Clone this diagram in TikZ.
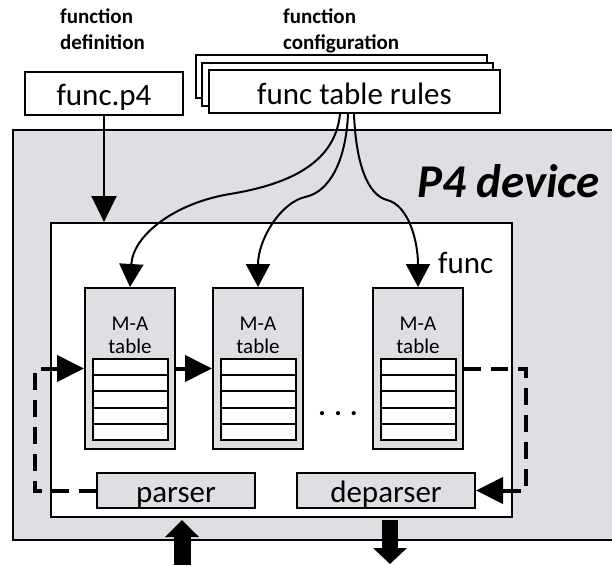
\documentclass[tikz,border=0pt]{standalone}
\usepackage{fontspec}
\setmainfont{Carlito}
\usetikzlibrary{arrows.meta,calc}
\definecolor{devgray}{RGB}{223,223,227}
\begin{document}
\begin{tikzpicture}[x=1pt,y=-1pt,
  box/.style={draw=black, line width=2pt, inner sep=0pt, rectangle},
  big/.style={font=\fontsize{31}{37}\selectfont},
  small/.style={font=\fontsize{21}{25}\selectfont},
  lbl/.style={font=\fontsize{21}{26}\selectfont\bfseries, align=left, inner sep=0pt},
  curvearrow/.style={line width=2pt, -{Triangle[length=23pt,width=24pt]}},
  flowarrow/.style={line width=4pt, -{Triangle[length=27pt,width=26pt]}},
  feedback/.style={line width=4pt, dash pattern=on 17pt off 10pt},
  bigarrow/.style={line width=17pt, -{Triangle[length=17pt,width=33pt]}},
]
\useasboundingbox (0,0) rectangle (612,565);
\clip (0,0) rectangle (612,565);

% top labels
\node[lbl, anchor=base west] (defl) at (60,49) {function\\definition};
\node[lbl, anchor=base west] (confl) at (283,49) {function\\configuration};

% device and func boxes
\node[box, fill=devgray, minimum width=607pt, minimum height=410pt] (device) at (316.5,335) {};
\node[font=\fontsize{47}{56}\selectfont\bfseries\itshape, anchor=base west, inner sep=0pt] (p4dev) at (417,197) {P4 device};
\node[box, fill=white, minimum width=461pt, minimum height=294pt] (func) at (281.5,370) {};
\node[big, anchor=base west, inner sep=0pt] (funclbl) at (438,273) {func};

% tables
\foreach \n/\x in {1/130,2/258,3/418} {
  \node[box, fill=devgray, minimum width=90pt, minimum height=161pt] (t\n) at (\x,368.5) {};
  \node[small, anchor=base, inner sep=0pt] (ma\n) at (\x,330) {M-A};
  \node[small, anchor=base, inner sep=0pt] (tb\n) at (\x,353) {table};
  \node[box, fill=white, minimum width=75pt, minimum height=81pt] (rows\n) at (\x,399.5) {};
  \foreach \k in {1,...,4} {
    \draw[line width=2pt] ($(rows\n.north west)!\k/5!(rows\n.south west)$) -- ($(rows\n.north east)!\k/5!(rows\n.south east)$);
  }
}
\node[font=\fontsize{28}{30}\selectfont\bfseries, anchor=base, inner sep=0pt] (dots) at (338,415) {. . .};

% parser / deparser
\node[box, fill=devgray, big, minimum width=158pt, text height=29pt, text depth=6pt] (parser) at (176,490.5) {parser};
\node[box, fill=devgray, big, minimum width=178pt, text height=29pt, text depth=6pt] (deparser) at (386,490.5) {deparser};

% inputs
\node[box, fill=white, big, minimum width=158pt, text height=33pt, text depth=10pt] (fp4) at (104,93.5) {func.p4};
\node[box, fill=white, minimum width=291pt, minimum height=43pt] (rules3) at (341.5,76.5) {};
\node[box, fill=white, minimum width=291pt, minimum height=43pt] (rules2) at (347.5,84) {};
\node[box, fill=white, big, minimum width=291pt, text height=34pt, text depth=9pt] (rules) at (354.5,91.5) {func table rules};

% connectors
\draw[line width=2pt, -{Triangle[length=26pt,width=25pt]}] (fp4.south) -- (fp4.south |- func.north);

\draw[curvearrow] ($(rules.south)+(-14.5,0)$) .. controls (335,165) and (285,185) .. (230,194)
   .. controls (175,203) and (133,235) .. (t1.north);
\draw[curvearrow] ($(rules.south)+(-6.5,0)$) .. controls (346,160) and (330,192) .. (305,197)
   .. controls (280,203) and (258,240) .. (t2.north);
\draw[curvearrow] ($(rules.south)+(-0.5,0)$) .. controls (356,165) and (368,195) .. (387,200)
   .. controls (408,205) and (418,240) .. (t3.north);

\draw[flowarrow] (t1.east) -- (t2.west);

\coordinate (lc) at (46,368.5);
\draw[feedback] (parser.west) -| (35,368.5) -- (lc);
\draw[flowarrow] (lc) -- (t1.west);

\coordinate (rc) at (func.east |- deparser.east);
\draw[feedback] (t3.east) -| (526,490.5) -- (rc);
\draw[flowarrow] (rc) -- (deparser.east);

\coordinate (inbot) at (182,565);
\coordinate (intop) at (182,520);
\draw[bigarrow] (inbot) -- (intop);
\coordinate (outtop) at (390,520);
\coordinate (outbot) at (390,564);
\draw[line width=16pt, -{Triangle[length=16pt,width=33pt]}] (outtop) -- (outbot);
\end{tikzpicture}
\end{document}
